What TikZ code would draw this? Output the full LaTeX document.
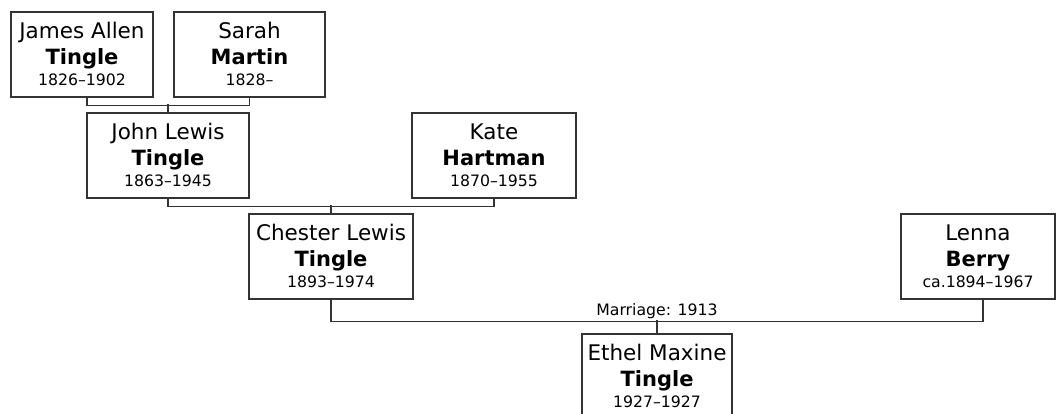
\documentclass[tikz,border=0pt]{standalone}
\usepackage{fontspec}
\setmainfont{DejaVu Sans}
\usetikzlibrary{calc,positioning}

\tikzset{
	pbox/.style={draw=black!80, line width=1.2pt, fill=white, minimum height=85pt, inner sep=0pt},
	given/.style={anchor=base, inner sep=0pt, font=\fontsize{21.5}{25}\selectfont},
	surname/.style={anchor=base, inner sep=0pt, font=\fontsize{21}{25}\selectfont\bfseries},
	years/.style={anchor=base, inner sep=0pt, font=\fontsize{15.7}{18}\selectfont},
	link/.style={draw=black!80, line width=1.2pt},
}

% #1 name, #2 centre, #3 width, #4 given names, #5 surname, #6 years
\newcommand{\person}[6]{%
	\node[pbox, minimum width=#3] (#1) at #2 {};
	\node[given]   (#1-given) at ([yshift=-27pt]#1.north) {#4};
	\node[surname] (#1-sur)   at ([yshift=-53pt]#1.north) {#5};
	\node[years]   (#1-yrs)   at ([yshift=-74pt]#1.north) {#6};
}

\begin{document}
\begin{tikzpicture}[x=1pt, y=-1pt]
		\useasboundingbox (0,0) rectangle (1056,414);
		\clip (0,0) rectangle (1056,414);
		
		%------------------------------------------------
		% Grandparents
		%------------------------------------------------
		\person{james}{(82,54.5)}{142pt}{James Allen}{Tingle}{1826--1902}
		\person{sarah}{(249.5,54.5)}{151pt}{Sarah}{Martin}{1828--}
		
		%------------------------------------------------
		% Parents
		%------------------------------------------------
		\person{john}{(168,155.5)}{162pt}{John Lewis}{Tingle}{1863--1945}
		\person{kate}{(494,155.5)}{164pt}{Kate}{Hartman}{1870--1955}
		
		%------------------------------------------------
		% Couple and child
		%------------------------------------------------
		\person{chester}{(331,256.5)}{164pt}{Chester Lewis}{Tingle}{1893--1974}
		\person{lenna}{(978,256.5)}{154pt}{Lenna}{Berry}{ca.1894--1967}
		\person{ethel}{(657,376.5)}{150pt}{Ethel Maxine}{Tingle}{1927--1927}
		
		%------------------------------------------------
		% Connectors
		%------------------------------------------------
		\draw[link] ([xshift=5pt]james.south) -- ++(0,8) -| (sarah.south);
		\draw[link] (john.north) -- ++(0,-8);
		
		\draw[link] (john.south) -- ++(0,8) -| (kate.south);
		\draw[link] (chester.north) -- ++(0,-8);
		
		\draw[link] (chester.south) -- ++(0,22) -| ([xshift=5pt]lenna.south);
		\draw[link] (ethel.north) -- ++(0,-13);
		
		\node[years, anchor=base] (marriage) at ([yshift=18pt]ethel.north) {Marriage: 1913};
		
\end{tikzpicture}
\end{document}
